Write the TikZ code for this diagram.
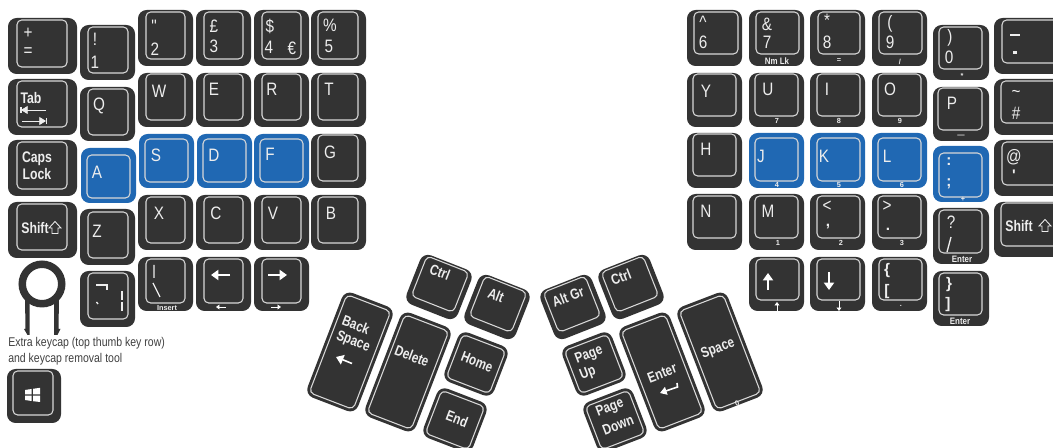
\documentclass[tikz,border=0pt]{standalone}
\usepackage{graphicx}
\usepackage{fontspec}
\setmainfont{Liberation Sans}
\newfontfamily\plainf{Liberation Sans}
\usetikzlibrary{arrows.meta}
\definecolor{keybody}{HTML}{333333}
\definecolor{keyblue}{HTML}{2068B3}
\definecolor{keyline}{HTML}{D8D8D8}
\definecolor{keytext}{HTML}{EDEDED}
\newcounter{lbn}
\tikzset{
  bodyshape/.style={fill=#1,rounded corners=6.5pt,draw=none},
  rimshape/.style={draw=keyline,line width=0.8pt,rounded corners=3.5pt,fill=none},
  lt/.style={text=keytext,inner sep=0pt,font=\fontsize{13.5}{14}\selectfont},
  lb/.style={text=keytext,inner sep=0pt,font=\fontsize{11.5}{12}\bfseries\selectfont},
  ls/.style={text=keytext,inner sep=0pt,font=\fontsize{5.5}{6}\bfseries\selectfont},
  lm/.style={text=keytext,inner sep=0pt,font=\fontsize{7}{8}\bfseries\selectfont},
  stroke/.style={draw=keytext,line width=1pt},
  bigarrow/.style={draw=white,line width=1.5pt,-{Triangle[length=5.5pt,width=7.5pt]}},
  tinyarrow/.style={draw=white,line width=0.6pt,-{Triangle[length=2.6pt,width=3.6pt]}},
  shiftglyph/.style={draw=keytext,line width=0.65pt,line join=miter,fill=none},
}
% outer x0 y0 x1 y1, inner x0 y0 x1 y1, colour
\newcommand{\kk}[9]{%
  \fill[bodyshape=#9] (#1,#2) rectangle (#3,#4);
  \draw[rimshape] (#5,#6) rectangle (#7,#8);}
% rotated key: cx cy rot w h  ml mt mr mb
\newcommand{\rk}[9]{%
  \begin{scope}[shift={(#1,#2)},rotate=#3]
    \pgfmathsetmacro\hw{#4/2}\pgfmathsetmacro\hh{#5/2}
    \fill[bodyshape=keybody] (-\hw,-\hh) rectangle (\hw,\hh);
    \draw[rimshape] (-\hw+#6,-\hh+#7) rectangle (\hw-#8,\hh-#9);
  \end{scope}}
\newcommand{\T}[4][1]{\stepcounter{lbn}\node[lt] (t\thelbn) at (#2,#3) {\scalebox{.85}[#1]{#4}};}
\newcommand{\B}[4][.8]{\stepcounter{lbn}\node[lb] (t\thelbn) at (#2,#3) {\scalebox{#1}[1]{#4}};}
\newcommand{\St}[3]{\stepcounter{lbn}\node[ls] (t\thelbn) at (#1,#2) {#3};}
\newcommand{\M}[3]{\stepcounter{lbn}\node[lm] (t\thelbn) at (#1,#2) {\scalebox{.85}[1]{#3}};}
\newcommand{\R}[4]{\stepcounter{lbn}\node[lb,rotate=#3,font=\fontsize{11}{12}\bfseries\selectfont] (t\thelbn) at (#1,#2) {\scalebox{.8}[1]{#4}};}
\newcommand{\shiftmark}[2]{\draw[shiftglyph] (#1,#2-6.5) -- ++(6,6.5) -- ++(-3,0) -- ++(0,5.5) -- ++(-6,0) -- ++(0,-5.5) -- ++(-3,0) -- cycle;}
\begin{document}
\begin{tikzpicture}[x=0.75pt,y=-0.75pt]
\useasboundingbox (0,0) rectangle (1053,448);
\clip (0,0) rectangle (1053,448);
\fill[white] (0,0) rectangle (1053,448);
% ---------- left hand: column 0
\kk{8}{18}{77}{74}{17}{20}{67}{67}{keybody}
\kk{8}{79}{77}{135}{17}{81}{67}{127}{keybody}
\kk{8}{140}{77}{196}{17}{142}{67}{189}{keybody}
\kk{8}{202}{77}{258}{17}{204}{67}{250}{keybody}
% column 1
\kk{80}{25}{135}{80}{88}{27}{128}{73}{keybody}
\kk{80}{87}{135}{141}{88}{89}{128}{135}{keybody}
\kk{81}{148}{136}{203}{87}{155}{130}{198}{keyblue}
\kk{80}{209}{135}{265}{88}{212}{128}{258}{keybody}
\kk{80}{271}{135}{327}{88}{273}{128}{319}{keybody}
% columns 2..5
\kk{138}{10}{193}{66}{146}{12}{185}{59}{keybody}
\kk{196}{10}{251}{66}{204}{12}{243}{59}{keybody}
\kk{254}{10}{309}{66}{262}{12}{301}{59}{keybody}
\kk{311}{10}{366}{66}{318}{12}{358}{59}{keybody}
\kk{138}{73}{193}{127}{146}{74}{185}{120}{keybody}
\kk{196}{73}{251}{127}{204}{74}{243}{120}{keybody}
\kk{254}{73}{309}{127}{262}{74}{301}{120}{keybody}
\kk{311}{73}{366}{127}{318}{74}{358}{120}{keybody}
\kk{139}{134}{194}{188}{145}{139}{188}{182}{keyblue}
\kk{197}{134}{252}{188}{203}{139}{246}{182}{keyblue}
\kk{254}{134}{309}{188}{260}{139}{303}{182}{keyblue}
\kk{311}{134}{366}{188}{318}{135}{358}{181}{keybody}
\kk{138}{195}{193}{250}{146}{197}{185}{243}{keybody}
\kk{196}{195}{251}{250}{204}{197}{243}{243}{keybody}
\kk{254}{195}{309}{250}{262}{197}{301}{243}{keybody}
\kk{311}{195}{366}{250}{318}{197}{358}{243}{keybody}
\kk{138}{257}{193}{311}{146}{259}{185}{303}{keybody}
\kk{196}{257}{251}{311}{204}{259}{243}{303}{keybody}
\kk{254}{257}{309}{311}{262}{259}{301}{303}{keybody}
% windows key
\kk{7}{369}{61}{423}{13}{371}{53}{415}{keybody}
\fill[white] (25,390) -- (31.5,389) -- (31.5,394.5) -- (25,394.5) -- cycle
 (33,388.8) -- (40,387.8) -- (40,394.5) -- (33,394.5) -- cycle
 (25,395.7) -- (31.5,395.7) -- (31.5,401) -- (25,400) -- cycle
 (33,395.7) -- (40,395.7) -- (40,402) -- (33,401.2) -- cycle;
% removal tool
\draw[keybody,line width=5.6pt] (42,284) circle (19.75);
\fill[keybody] (25,298) -- (25.5,329) -- (24,329) -- (27.5,335) -- (29.5,335) -- (29.5,303) -- cycle
 (59,298) -- (58.5,329) -- (60.5,329) -- (57.5,335) -- (54,335) -- (54,303) -- cycle;
\stepcounter{lbn}\node[anchor=west,inner sep=0pt,text=black!75,font=\fontsize{9.5}{11.2}\selectfont,align=left] (cap) at (8,351) {\scalebox{.83}[1]{Extra keycap (top thumb key row)}\\[1pt]\scalebox{.83}[1]{and keycap removal tool}};
% ---------- right hand
\kk{687}{10}{742}{66}{694}{12}{738}{54}{keybody}
\kk{749}{10}{804}{66}{756}{12}{799}{54}{keybody}
\kk{810}{10}{865}{66}{818}{12}{860}{54}{keybody}
\kk{872}{10}{927}{66}{879}{12}{922}{54}{keybody}
\kk{933}{25}{989}{80}{939}{27}{982}{69}{keybody}
\kk{687}{73}{742}{127}{693}{74}{736}{116}{keybody}
\kk{749}{73}{804}{127}{755}{74}{798}{116}{keybody}
\kk{810}{73}{865}{127}{817}{74}{860}{116}{keybody}
\kk{872}{73}{927}{127}{878}{74}{921}{116}{keybody}
\kk{933}{87}{989}{141}{938}{88}{982}{130}{keybody}
\kk{687}{133}{742}{188}{693}{134}{736}{176}{keybody}
\kk{749}{133}{804}{188}{755}{138}{798}{181}{keyblue}
\kk{810}{133}{865}{188}{817}{138}{860}{181}{keyblue}
\kk{872}{133}{927}{188}{878}{138}{921}{181}{keyblue}
\kk{933}{146}{989}{202}{939}{153}{982}{197}{keyblue}
\kk{687}{194}{742}{250}{693}{196}{736}{238}{keybody}
\kk{749}{194}{804}{250}{755}{196}{798}{238}{keybody}
\kk{810}{194}{865}{250}{817}{196}{860}{238}{keybody}
\kk{872}{194}{927}{250}{878}{196}{921}{238}{keybody}
\kk{933}{208}{989}{264}{939}{210}{982}{253}{keybody}
\kk{749}{257}{804}{311}{756}{259}{799}{300}{keybody}
\kk{810}{257}{865}{311}{817}{259}{860}{300}{keybody}
\kk{872}{257}{927}{311}{879}{259}{922}{300}{keybody}
\kk{933}{271}{989}{326}{939}{273}{982}{315}{keybody}
\kk{994}{18}{1064}{74}{1002}{20}{1060}{63}{keybody}
\kk{994}{79}{1064}{135}{1001}{81}{1060}{123}{keybody}
\kk{994}{140}{1064}{196}{1002}{142}{1060}{185}{keybody}
\kk{994}{202}{1064}{257}{1001}{203}{1060}{246}{keybody}
% ---------- thumb keys, left
\rk{439}{287}{-21.5}{55}{53}{5}{2}{5}{8}
\rk{497}{307}{-21.5}{55}{53}{5}{2}{5}{8}
\rk{350}{352}{-21}{54}{112}{3.5}{3.5}{3.5}{3.5}
\rk{408}{372}{-21}{54}{112}{3.5}{3.5}{3.5}{3.5}
\rk{476}{364}{-21}{53}{53}{3.5}{3.5}{3.5}{3.5}
\rk{455}{420}{-21}{53}{53}{3.5}{3.5}{3.5}{3.5}
% ---------- thumb keys, right
\rk{573}{307}{21.5}{55}{53}{5}{2}{5}{8}
\rk{631}{287}{21.5}{55}{53}{5}{2}{5}{8}
\rk{594}{364}{21}{53}{53}{3.5}{3.5}{3.5}{3.5}
\rk{615}{420}{21}{53}{53}{3.5}{3.5}{3.5}{3.5}
\rk{662}{372}{21}{54}{112}{3.5}{3.5}{3.5}{3.5}
\rk{720}{352}{21}{54}{112}{3.5}{3.5}{3.5}{3.5}
% ---------- legends, left
\T{28}{33}{+}\T{28}{52}{=}
\T{95}{39}{!}\T{95}{62}{1}
\T{154}{26}{{\plainf"}}\T{155}{49}{2}
\T{214}{26}{£}\T{214}{46}{3}
\T{270}{26}{\$}\T{269}{47}{4}\T{292}{48}{€}
\T{330}{25}{\%}\T{329}{46}{5}
\T{159}{91}{W}\T{214}{89}{E}\T{272}{89}{R}\T{329}{89}{T}
\T{156}{155}{S}\T{214}{155}{D}\T{270}{154}{F}\T{330}{152}{G}
\T{99}{106}{Q}\T{97}{172}{A}\T{97}{231}{Z}
\T{159}{213}{X}\T{216}{213}{C}\T{273}{213}{V}\T{331}{213}{B}
\B{31}{98}{Tab}
\coordinate (tabla) at (46,110); \coordinate (tablb) at (21,110);
\coordinate (tabra) at (22,121); \coordinate (tabrb) at (46,121);
\draw[draw=keytext,line width=.6pt,-{Triangle[length=5pt,width=6pt]}] (tabla) -- (tablb);
\draw[draw=keytext,line width=.6pt,-{Triangle[length=5pt,width=6pt]}] (tabra) -- (tabrb);
\draw[draw=keytext,line width=.9pt] (21,107) -- (21,113) (46.5,118) -- (46.5,124);
\B{37}{159}{Caps}\B{37}{174}{Lock}
\B{35}{228}{Shift}
\shiftmark{55}{228}
% bar + backslash
\draw[stroke] (154,265) -- (154,278) (153,283) -- (160,297);
\St{167}{308}{Insert}
\draw[bigarrow] (230,275) -- (211,275);
\draw[tinyarrow] (226,307) -- (216,307);
\draw[bigarrow] (268,275) -- (287,275);
\draw[tinyarrow] (271,307) -- (281,307);
% not / broken bar
\draw[stroke] (96,285) -- (107,285) -- (107,290);
\draw[stroke] (96.5,302) -- (98,304);
\draw[stroke] (122,291) -- (122,300) (122,302) -- (122,311);
% ---------- legends, right
\T{703}{22}{\^{}}\T{703}{42}{6}
\T{767}{24}{\&}\T{767}{42}{7}\M{777}{61}{Nm Lk}
\T{827}{20}{*}\T{827}{42}{8}\St{839}{61}{=}
\T{890}{24}{(}\T{890}{42}{9}\St{900}{62}{/}
\T{950}{38}{)}\T{949}{57}{0}\St{962}{76}{*}
\T{706}{91}{Y}\T{768}{89}{U}\St{777}{121}{7}
\T{827}{89}{I}\St{839}{121}{8}
\T{890}{89}{O}\St{900}{121}{9}
\T{952}{103}{P}\St{961}{136}{—}
\T{706}{149}{H}
\T{761}{156}{J}\St{777}{185}{4}
\T{824}{156}{K}\St{839}{185}{5}
\T{887}{156}{L}\St{902}{185}{6}
\B[1]{949}{162}{:}\B[1]{949}{184}{;}\St{963}{199}{+}
\T{706}{211}{N}\T{768}{211}{M}\St{778}{243}{1}
\T{827}{206}{<}\B[1]{828}{227}{,}\St{841}{243}{2}
\T{887}{206}{>}\B[1]{888}{229}{.}\St{902}{243}{3}
\T{951}{222}{?}\M{962}{259}{Enter}
\draw[stroke] (951,237) -- (947,252);
\draw[bigarrow] (768,290) -- (768,273);
\draw[tinyarrow] (777,311) -- (777,302);
\draw[bigarrow] (829,272) -- (829,290);
\draw[tinyarrow] (839,301) -- (839,311);
\B[1]{887}{271}{\{}\B[1]{887}{292}{[}\St{901}{306}{.}
\B[1]{949}{285}{\}}\B[1]{948}{305}{]}\M{960}{321}{Enter}
\draw[stroke] (1010,35) -- (1020,35);
\fill[keytext] (1013,51) rectangle (1017,54);
\T{1016}{94}{\textasciitilde}\T{1016}{113}{\#}
\T{1014}{157}{@}\B[1]{1014}{175}{{\plainf'}}
\B{1019}{226}{Shift}
\shiftmark{1045}{226}
% ---------- thumb legends
\R{440}{272}{-21}{Ctrl}
\R{496}{295}{-21}{Alt}
\R{356}{325}{-21}{Back}
\R{353}{342}{-21}{Space}
\draw[bigarrow,line width=1.2pt] (352,363.5) -- (336,357);
\R{412}{356}{-21}{Delete}
\R{477}{362}{-21}{Home}
\R{457}{419}{-21}{End}
\R{568}{297}{21}{Alt Gr}
\R{621}{277}{21}{Ctrl}
\R{589}{355}{21}{Page}
\R{588}{373}{21}{Up}
\R{610}{408}{21}{Page}
\R{618}{425}{21}{Down}
\R{662}{373}{21}{Enter}
\draw[draw=white,line width=1.2pt,-{Triangle[length=5pt,width=6pt]}] (677,383) -- (677.5,387) -- (660,393);
\R{718}{349}{21}{Space}
\stepcounter{lbn}\node[ls,rotate=21] (t\thelbn) at (737,403) {0};
\end{tikzpicture}
\end{document}
